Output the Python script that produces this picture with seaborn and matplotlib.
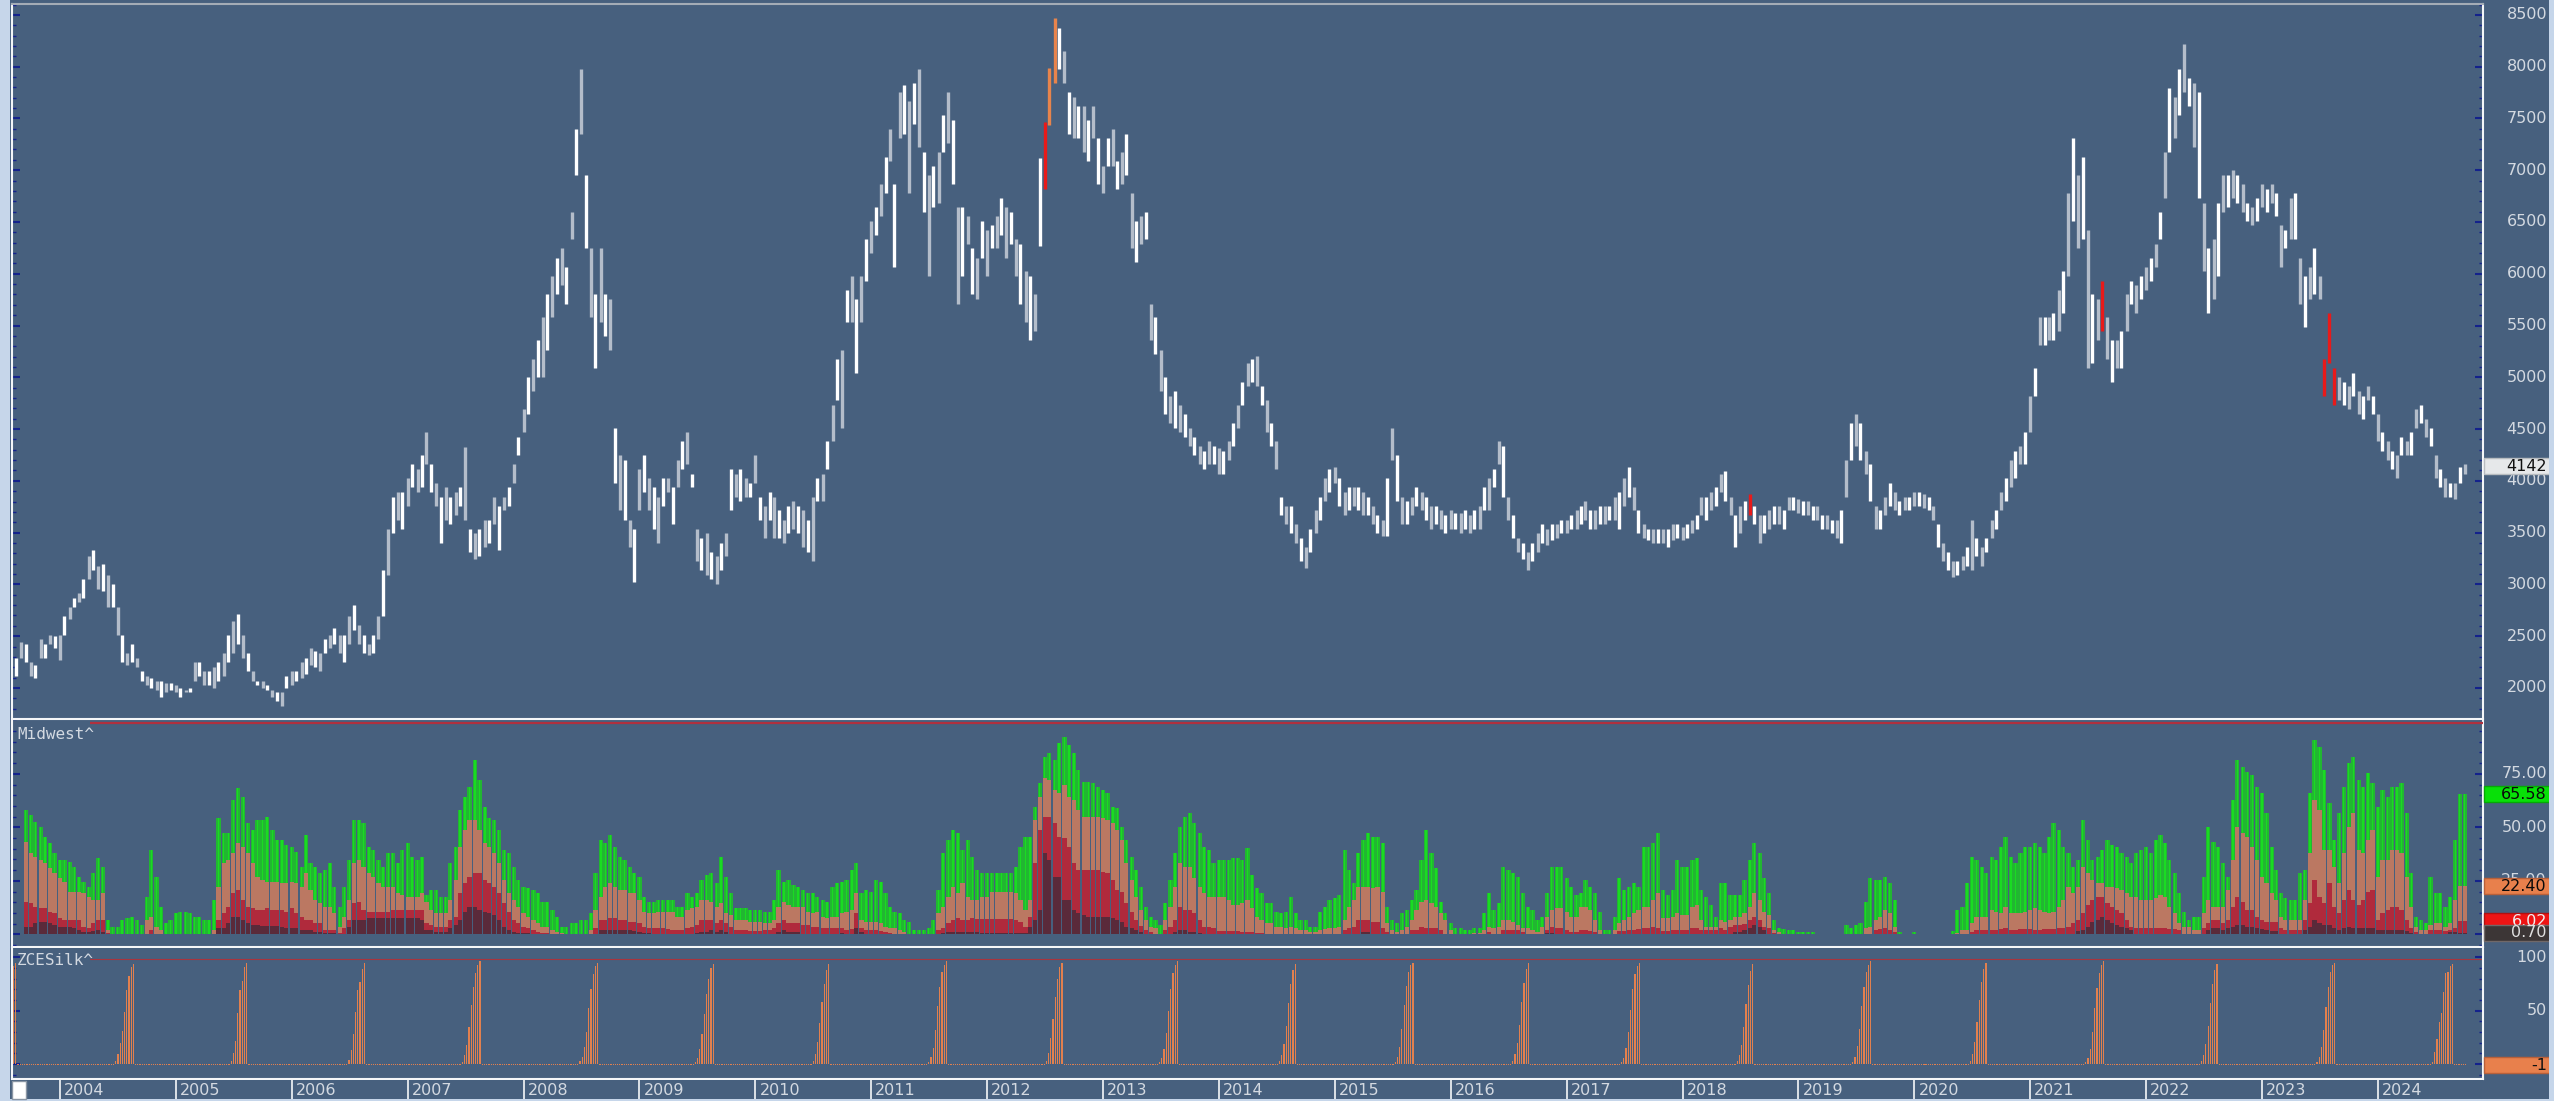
import numpy as np
import pandas as pd
import matplotlib
matplotlib.use("Agg")
import matplotlib.pyplot as plt
from matplotlib.patches import Rectangle
from matplotlib.ticker import MultipleLocator
from matplotlib.transforms import blended_transform_factory as btf
import seaborn as sns

# ---------------------------------------------------------------- data
# semi-monthly bars (1st / 15th), first bar 2003-08-15, last bar 2024-10-01
price_low = [
    2115, 2293, 2248, 2115, 2093, 2293, 2293, 2426, 2382, 2271,
    2515, 2670, 2781, 2826, 2870, 3048, 3136, 2959, 2937, 2781,
    2781, 2515, 2248, 2226, 2248, 2204, 2071, 2026, 2004, 1982,
    1915, 1960, 1982, 1960, 1915, 1960, 1960, 2071, 2115, 2026,
    2026, 2004, 2071, 2115, 2248, 2337, 2426, 2293, 2160, 2071,
    2026, 2004, 1982, 1915, 1871, 1827, 2004, 2026, 2071, 2093,
    2138, 2226, 2204, 2160, 2337, 2382, 2426, 2337, 2248, 2426,
    2560, 2426, 2337, 2315, 2337, 2470, 2692, 3092, 3492, 3625,
    3536, 3758, 3936, 3891, 3936, 4158, 3891, 3758, 3403, 3625,
    3580, 3669, 3758, 3625, 3314, 3250, 3270, 3358, 3403, 3580,
    3336, 3714, 3758, 3980, 4246, 4468, 4646, 4868, 5001, 5001,
    5268, 5578, 5800, 5889, 5712, 6333, 6955, 7354, 6244, 5578,
    5090, 5534, 5401, 5268, 3980, 3714, 3625, 3358, 3025, 3714,
    3891, 3714, 3536, 3403, 3758, 3891, 3580, 3936, 4113, 4158,
    3936, 3225, 3136, 3092, 3048, 3003, 3136, 3270, 3714, 3847,
    3802, 3847, 3847, 3980, 3625, 3447, 3625, 3447, 3447, 3403,
    3492, 3536, 3492, 3358, 3314, 3225, 3802, 3802, 4113, 4380,
    4779,
    4513, 5534, 5534, 5046, 5534, 5934, 6200, 6378, 6555,
    6777, 7088, 6067, 7310, 7354, 6777, 7443, 7221, 6600, 5978,
    6644, 6688, 7177, 7266, 6866, 5712, 5978, 6289, 5800, 5756,
    6156, 5978, 6244, 6244, 6378, 6156, 6289, 5978, 5712, 5534,
    5356, 5445, 6270, 6822, 7433, 7843, 7976, 7843, 7354, 7310,
    7310, 7177, 7088, 7310, 6866, 6777, 7044, 7044, 6822, 6866,
    6955, 6244, 6111, 6289, 6333, 5356, 5223, 4868, 4646, 4557,
    4513, 4468, 4424, 4335, 4246, 4158, 4113, 4158, 4158, 4069,
    4069, 4202, 4335, 4513, 4735, 4912, 4957, 4912, 4735, 4468,
    4335, 4113, 3669, 3580, 3492, 3403, 3225, 3159, 3314, 3492,
    3625, 3802, 3891, 3980, 3758, 3669, 3714, 3758, 3714, 3669,
    3669, 3580, 3492, 3469, 3469, 4202, 3802, 3580, 3580, 3669,
    3758, 3714, 3625, 3536, 3580, 3536, 3492, 3536, 3536, 3492,
    3536, 3492, 3536, 3536, 3714, 3714, 3936, 4158, 3847, 3625,
    3447, 3314, 3248, 3136, 3225, 3314, 3403, 3381, 3425, 3447,
    3492, 3492, 3536, 3536, 3580, 3625, 3536, 3536, 3580, 3580,
    3625, 3625, 3536, 3758, 3847, 3714, 3492, 3447, 3425, 3403,
    3403,
    3403, 3358, 3425, 3447, 3425, 3447, 3492, 3536, 3669,
    3625, 3714, 3758, 3891, 3802, 3669, 3358, 3492, 3625, 3669,
    3580, 3403, 3492, 3536, 3580, 3580, 3536, 3714, 3714, 3692,
    3669, 3669, 3625, 3625, 3536, 3536, 3492, 3447, 3403, 3847,
    4202, 4335, 4202, 4069, 3802, 3536, 3536, 3669, 3758, 3714,
    3669, 3714, 3714, 3758, 3758, 3736, 3714, 3625, 3358, 3225,
    3136, 3070, 3092, 3136, 3181, 3136, 3270, 3181, 3314, 3447,
    3536, 3714, 3802, 3936, 4024, 4158, 4158, 4468, 4823, 5312,
    5312, 5356, 5356, 5445, 5623, 5978, 6511, 6244, 6333, 5090,
    5134, 5356, 5445, 5179, 4957, 5090, 5090, 5445, 5712, 5623,
    5756, 5845, 5934, 6067, 6333, 6733, 7177, 7310, 7532, 7754,
    7621, 7221, 6733, 6022, 5623, 5756, 5978, 6600, 6644, 6733,
    6688, 6600, 6511, 6466, 6511, 6644, 6600, 6688, 6555, 6067,
    6244, 6333, 6333, 5712, 5490, 5756, 5800, 5756, 4823, 5134,
    4735, 4779, 4735, 4690, 4823, 4646, 4602, 4779, 4646, 4380,
    4291, 4202, 4113, 4024, 4246, 4246, 4246, 4513, 4557, 4424,
    4335, 4024, 3936, 3847, 3847, 3825, 3980, 4069,
]
price_high = [
    2293, 2440, 2426, 2248, 2226, 2470, 2426, 2515, 2500, 2515,
    2692, 2781, 2870, 2914, 3048, 3270, 3336, 3180, 3200, 3092,
    3003, 2781, 2515, 2337, 2426, 2293, 2160, 2115, 2093, 2071,
    2071, 2050, 2050, 2026, 2004, 1982, 2004, 2248, 2248, 2160,
    2160, 2204, 2248, 2337, 2515, 2648, 2715, 2515, 2337, 2160,
    2071, 2071, 2026, 1982, 1960, 1960, 2115, 2160, 2160, 2248,
    2293, 2382, 2360, 2337, 2470, 2515, 2581, 2515, 2515, 2692,
    2800, 2604, 2515, 2426, 2515, 2692, 3136, 3536, 3847, 3891,
    3891, 4024, 4158, 4113, 4246, 4468, 4158, 3980, 3847, 3936,
    3847, 3891, 3936, 4330, 3536, 3492, 3536, 3625, 3625, 3847,
    3758, 3847, 3936, 4158, 4424, 4690, 5001, 5179, 5356, 5578,
    5800, 5978, 6156, 6244, 6067, 6600, 7399, 7976, 6955, 6244,
    5800, 6244, 5800, 5756, 4513, 4246, 4202, 3625, 3536, 4113,
    4246, 4024, 3936, 3847, 4024, 4024, 3936, 4202, 4380, 4468,
    4069, 3536, 3447, 3492, 3314, 3270, 3403, 3492, 4113, 4069,
    4113, 4024, 3980, 4246, 3847, 3758, 3891, 3847, 3714, 3625,
    3758, 3802, 3758, 3714, 3625, 3847, 4024, 4069, 4380, 4735,
    5179,
    5268, 5845, 5978, 5756, 5978, 6333, 6511, 6644, 6866,
    7130, 7399, 6866, 7754, 7821, 7665, 7843, 7976, 7177, 6955,
    7044, 7177, 7532, 7754, 7488, 6644, 6644, 6555, 6244, 6156,
    6511, 6422, 6466, 6555, 6733, 6644, 6600, 6333, 6289, 6022,
    5978, 5800, 7113, 7465, 7985, 8466, 8376, 8154, 7754, 7710,
    7621, 7621, 7488, 7621, 7310, 7044, 7310, 7399, 7088, 7177,
    7354, 6777, 6511, 6555, 6600, 5712, 5578, 5268, 5001, 4823,
    4868, 4735, 4646, 4513, 4424, 4335, 4291, 4380, 4335, 4313,
    4291, 4380, 4557, 4735, 4957, 5134, 5179, 5201, 4912, 4779,
    4557, 4380, 3847, 3758, 3758, 3580, 3447, 3358, 3536, 3714,
    3847, 4024, 4113, 4135, 4024, 3891, 3936, 3936, 3936, 3891,
    3847, 3758, 3669, 3625, 4024, 4513, 4246, 3847, 3802, 3847,
    3936, 3891, 3847, 3758, 3758, 3714, 3669, 3714, 3692, 3692,
    3714, 3669, 3714, 3758, 3936, 4024, 4113, 4380, 4335, 3847,
    3669, 3447, 3403, 3314, 3403, 3492, 3580, 3536, 3580, 3580,
    3625, 3625, 3669, 3714, 3758, 3802, 3714, 3714, 3758, 3758,
    3758, 3847, 3891, 4024, 4135, 3936, 3714, 3580, 3536, 3536,
    3536,
    3536, 3536, 3580, 3580, 3558, 3580, 3625, 3669, 3847,
    3847, 3891, 3936, 4069, 4091, 3847, 3669, 3758, 3802, 3869,
    3758, 3669, 3669, 3714, 3758, 3758, 3714, 3847, 3847, 3825,
    3802, 3802, 3758, 3758, 3669, 3669, 3625, 3625, 3714, 4202,
    4557, 4646, 4557, 4291, 4158, 3758, 3714, 3847, 3980, 3891,
    3802, 3847, 3847, 3891, 3891, 3869, 3847, 3758, 3580, 3403,
    3314, 3225, 3225, 3270, 3358, 3625, 3447, 3358, 3447, 3625,
    3714, 3891, 4024, 4202, 4291, 4335, 4468, 4823, 5090, 5578,
    5578, 5578, 5623, 5845, 6022, 6777, 7310, 6955, 7130, 6422,
    5800, 5756, 5934, 5578, 5356, 5356, 5445, 5800, 5934, 5889,
    5978, 6067, 6156, 6289, 6600, 7177, 7798, 7710, 7976, 8220,
    7887, 7843, 7754, 6688, 6244, 6333, 6688, 6955, 6955, 7000,
    6955, 6866, 6688, 6644, 6733, 6866, 6822, 6866, 6777, 6466,
    6422, 6733, 6777, 6156, 5978, 6067, 6244, 5978, 5179, 5623,
    5090, 5001, 4957, 4912, 5046, 4868, 4823, 4912, 4823, 4646,
    4468, 4380, 4291, 4246, 4424, 4380, 4468, 4690, 4735, 4602,
    4513, 4246, 4113, 4024, 3980, 3980, 4135, 4160,
]
last_close = 4142
red_signal_dates = ["2012-07-01", "2018-08-01", "2021-08-15",
                    "2023-07-15", "2023-08-01", "2023-08-15"]
orange_signal_dates = ["2012-07-15", "2012-08-01"]

# Midwest^ : cumulative layer tops on the same semi-monthly grid
mw_d0 = [
    0, 0, 58.1, 55.8, 52.7, 50.3, 45.6, 42.5, 37.9, 34.7,
    34.7, 34.0, 31.6, 27.0, 24.6, 22.3, 28.5, 35.5, 31.6, 6.7,
    3.6, 3.6, 6.7, 7.5, 8.3, 6.7, 4.4, 17.6, 39.4, 27.0,
    12.9, 5.1, 6.7, 9.8, 10.6, 10.6, 9.8, 8.3, 8.3, 6.7,
    6.7, 16.0, 54.2, 47.2, 47.2, 62.8, 68.2, 64.3, 51.9, 48.8,
    53.4, 53.4, 55.0, 48.8, 44.1, 44.1, 41.8, 41.0, 38.6, 31.6,
    46.4, 33.2, 31.6, 28.5, 30.1, 33.2, 22.3, 12.9, 22.3, 34.7,
    53.4, 53.4, 51.9, 41.0, 39.4, 34.7, 31.6, 37.9, 37.9, 33.2,
    39.4, 42.5, 36.3, 34.7, 36.3, 18.4, 20.7, 20.7, 17.6, 17.6,
    33.2, 41.0, 58.1, 64.3, 69.0, 81.5, 72.1, 59.7, 54.2, 53.4,
    48.8, 39.4, 37.9, 31.6, 25.4, 22.3, 21.5, 20.7, 19.2, 15.3,
    15.3, 11.4, 8.3, 3.6, 3.6, 5.1, 5.1, 6.7, 6.7, 9.8,
    28.5, 44.1, 42.5, 46.4, 41.0, 36.3, 34.7, 31.6, 28.5, 27.0,
    17.6, 15.3, 15.3, 16.0, 16.0, 16.0, 16.0, 12.9, 12.9, 19.2,
    17.6, 19.2, 25.4, 27.7, 28.5, 23.8, 36.3, 27.0, 19.2, 12.2,
    12.2, 12.2, 11.4, 11.4, 11.4, 10.6, 10.6, 16.0, 30.1, 24.6,
    25.4, 23.0, 22.3, 20.7, 19.2, 19.2, 17.6, 16.0, 15.3, 22.3,
    23.8,
    24.6, 25.4, 30.1, 33.2, 19.2, 20.7, 19.9, 25.4, 24.6,
    19.2, 12.9, 10.6, 9.8, 6.7, 5.9, 2.0, 2.0, 2.0, 2.8,
    6.7, 20.7, 37.9, 44.1, 48.8, 47.2, 39.4, 44.1, 36.3, 30.1,
    28.5, 28.5, 28.5, 28.5, 28.5, 28.5, 28.5, 31.6, 41.0, 45.6,
    45.6, 59.7, 70.6, 83.0, 84.6, 81.5, 89.3, 92.4, 88.5, 84.6,
    76.8, 71.4, 71.4, 70.6, 69.0, 67.5, 65.9, 59.7, 58.9, 50.3,
    44.1, 36.3, 30.1, 22.3, 12.9, 8.3, 6.7, 4.4, 14.5, 25.4,
    37.9, 50.3, 55.0, 56.6, 51.9, 47.2, 41.0, 39.4, 33.2, 34.7,
    34.7, 34.7, 35.5, 35.5, 34.7, 40.2, 27.7, 21.5, 19.2, 14.5,
    14.5, 10.6, 9.8, 10.6, 17.6, 9.8, 6.7, 6.7, 3.6, 3.6,
    10.6, 12.9, 16.0, 16.8, 18.4, 39.4, 30.1, 23.8, 37.9, 44.1,
    47.2, 45.6, 45.6, 42.5, 12.9, 6.7, 5.1, 9.8, 11.4, 16.0,
    20.7, 34.7, 48.8, 37.9, 30.8, 15.3, 9.8, 5.1, 2.8, 2.8,
    2.0, 2.0, 2.8, 2.8, 9.8, 19.2, 11.4, 14.5, 31.6, 30.1,
    28.5, 27.0, 19.2, 12.9, 11.4, 6.7, 8.3, 19.2, 31.6, 31.6,
    31.6, 26.2, 22.3, 18.4, 19.2, 25.4, 22.3, 19.2, 10.6, 2.0,
    2.0, 8.3, 26.2, 20.7, 22.3, 23.8, 22.3, 41.0, 41.0, 42.5,
    47.2,
    20.7, 18.4, 20.7, 34.7, 31.6, 31.6, 34.7, 35.5, 20.7,
    17.6, 13.7, 8.3, 23.8, 23.8, 18.4, 18.4, 18.4, 25.4, 34.7,
    42.5, 37.9, 26.2, 19.2, 6.7, 2.8, 2.3, 2.0, 2.0, 1.2,
    1.2, 1.2, 1.2, 0, 0, 0, 0, 0, 0, 4.4,
    2.8, 4.4, 5.1, 15.3, 26.2, 25.4, 25.4, 27.0, 23.8, 16.0,
    1.2, 0, 0, 1.2, 0, 0, 0, 0, 0, 0,
    0, 1.7, 11.4, 12.9, 23.8, 36.3, 34.7, 31.6, 28.5, 36.3,
    34.7, 41.0, 45.6, 36.3, 33.2, 37.9, 41.0, 41.0, 42.5, 41.0,
    37.9, 45.6, 51.9, 48.8, 41.0, 37.9, 31.6, 34.7, 53.4, 44.1,
    34.7, 36.3, 39.4, 44.1, 41.8, 41.0, 37.9, 36.3, 33.2, 37.9,
    39.4, 41.0, 37.9, 44.1, 46.4, 42.5, 34.7, 28.5, 19.2, 10.6,
    6.7, 8.3, 8.3, 27.0, 50.3, 43.3, 41.0, 33.2, 27.0, 62.8,
    81.5, 78.4, 76.0, 74.5, 69.0, 65.9, 56.6, 41.0, 30.1, 19.2,
    16.8, 16.0, 16.0, 28.5, 30.1, 65.9, 90.8, 87.7, 76.8, 61.2,
    44.1, 56.6, 69.0, 79.9, 83.0, 72.1, 69.0, 75.3, 70.6, 59.7,
    67.5, 64.3, 69.0, 69.0, 70.6, 56.6, 28.5, 8.3, 6.7, 5.1,
    27.0, 19.2, 19.2, 12.9, 17.6, 44.1, 65.58, 65.58,
]
mw_d1 = [
    0, 0, 43.3, 37.9, 36.3, 34.7, 33.2, 30.8, 28.5, 26.2,
    24.6, 19.9, 19.9, 19.9, 19.2, 17.6, 16.0, 16.0, 19.2, 2.0,
    0, 0, 0, 0, 0, 0, 0, 6.7, 8.3, 3.6,
    2.0, 0, 0, 0, 0, 0, 0, 0, 0, 0,
    0, 2.0, 22.3, 33.2, 34.7, 37.9, 42.5, 41.0, 37.9, 33.2,
    27.0, 25.4, 24.6, 24.6, 24.6, 23.8, 23.8, 24.6, 23.8, 22.3,
    28.5, 20.7, 16.0, 14.5, 12.9, 12.9, 9.8, 3.6, 8.3, 16.0,
    33.2, 34.7, 31.6, 28.5, 27.0, 23.8, 22.3, 22.3, 22.3, 19.2,
    18.4, 17.6, 17.6, 17.6, 19.2, 15.3, 11.4, 9.8, 9.8, 9.8,
    16.0, 25.4, 41.0, 48.8, 53.4, 53.4, 48.8, 42.5, 41.0, 37.9,
    33.2, 25.4, 19.2, 16.0, 12.9, 9.8, 8.3, 6.7, 5.1, 3.6,
    3.6, 2.0, 1.2, 0.8, 0, 0, 0, 0, 0, 2.0,
    11.4, 17.6, 22.3, 23.8, 22.3, 20.7, 20.7, 19.2, 19.2, 16.0,
    10.6, 9.8, 9.8, 10.6, 10.6, 10.6, 10.6, 8.3, 8.3, 11.4,
    12.2, 12.9, 16.0, 16.0, 15.3, 12.9, 14.5, 9.8, 9.0, 6.7,
    6.7, 6.7, 5.9, 5.9, 5.9, 5.1, 5.1, 6.7, 12.9, 15.3,
    13.7, 12.9, 12.9, 12.9, 10.6, 9.8, 10.6, 8.3, 7.5, 8.3,
    8.3,
    9.8, 10.6, 11.4, 19.2, 6.7, 5.9, 5.9, 5.9, 5.1,
    3.6, 2.8, 2.8, 2.0, 1.2, 0, 0, 0, 0, 0,
    0, 9.8, 12.9, 17.6, 22.3, 19.2, 23.8, 17.6, 16.0, 16.0,
    17.6, 17.6, 19.9, 19.9, 19.9, 19.9, 19.9, 19.2, 16.0, 11.4,
    16.0, 53.4, 64.3, 72.9, 72.1, 67.5, 65.9, 69.8, 64.3, 62.8,
    58.1, 55.0, 55.0, 55.0, 55.0, 54.2, 53.4, 51.9, 48.8, 44.1,
    33.2, 25.4, 17.6, 11.4, 6.7, 3.6, 2.8, 0, 6.7, 12.9,
    22.3, 33.2, 31.6, 31.6, 26.2, 22.3, 19.2, 17.6, 17.6, 17.6,
    17.6, 16.0, 13.7, 13.7, 14.5, 16.0, 12.2, 8.3, 6.7, 5.1,
    5.1, 3.6, 3.6, 2.8, 3.6, 2.8, 2.0, 2.0, 1.2, 1.2,
    2.0, 2.3, 2.8, 2.8, 3.6, 6.7, 12.9, 16.0, 22.3, 22.3,
    22.3, 21.5, 22.3, 19.9, 5.1, 2.0, 1.2, 2.0, 3.6, 6.7,
    11.4, 15.3, 16.0, 14.5, 12.9, 9.8, 6.7, 2.0, 0, 0,
    0, 0, 0.8, 0.8, 2.0, 3.6, 2.8, 3.6, 6.7, 6.7,
    5.9, 4.4, 2.8, 2.8, 2.0, 1.2, 3.6, 8.3, 11.4, 12.2,
    12.2, 10.6, 8.3, 8.3, 12.9, 12.9, 11.4, 6.7, 2.0, 0,
    0, 2.0, 5.1, 6.7, 8.3, 9.8, 11.4, 12.9, 12.9, 16.0,
    19.2,
    7.5, 7.5, 8.3, 9.8, 9.0, 9.0, 12.9, 13.7, 6.7,
    3.6, 3.6, 3.6, 6.7, 5.9, 6.7, 8.3, 8.3, 9.8, 12.9,
    19.2, 16.0, 10.6, 9.0, 2.0, 1.2, 0, 0, 0, 0,
    0, 0, 0, 0, 0, 0, 0, 0, 0, 0,
    0, 0, 0, 2.8, 3.6, 6.7, 8.3, 11.4, 9.8, 3.6,
    0, 0, 0, 0, 0, 0, 0, 0, 0, 0,
    0, 0, 0.5, 2.0, 2.0, 5.1, 8.3, 8.3, 8.3, 11.4,
    10.6, 9.8, 12.9, 9.8, 9.8, 9.8, 10.6, 11.4, 12.2, 11.4,
    10.6, 9.8, 10.6, 12.9, 16.0, 22.3, 19.2, 22.3, 31.6, 28.5,
    25.4, 23.8, 23.8, 22.3, 22.3, 21.5, 20.7, 19.2, 17.6, 17.6,
    16.0, 16.0, 16.0, 16.8, 18.4, 17.6, 12.9, 9.8, 5.1, 3.6,
    3.6, 2.0, 2.0, 9.8, 16.0, 12.9, 12.9, 12.9, 20.7, 34.7,
    50.3, 47.2, 45.6, 41.0, 34.7, 27.0, 23.8, 19.2, 16.0, 8.3,
    6.7, 6.7, 6.7, 6.7, 16.0, 37.9, 62.8, 58.1, 39.4, 39.4,
    31.6, 23.8, 37.9, 50.3, 56.6, 39.4, 37.9, 44.1, 48.8, 27.0,
    34.7, 34.7, 39.4, 39.4, 37.9, 27.0, 12.9, 3.6, 2.0, 2.0,
    4.4, 5.1, 5.1, 3.6, 5.1, 16.0, 22.40, 22.40,
]
mw_d2 = [
    0, 0, 15.3, 14.5, 12.9, 12.2, 12.2, 10.6, 9.8, 7.5,
    6.7, 6.7, 6.7, 6.7, 3.6, 2.8, 5.1, 6.7, 6.7, 0.5,
    0, 0, 0, 0, 0, 0, 0, 0, 2.0, 0,
    0, 0, 0, 0, 0, 0, 0, 0, 0, 0,
    0, 0, 6.7, 9.8, 12.9, 19.2, 20.7, 16.0, 12.9, 12.2,
    11.4, 11.4, 12.2, 11.4, 11.4, 11.4, 10.6, 12.2, 9.8, 8.3,
    6.7, 6.7, 5.1, 5.1, 2.0, 2.0, 2.0, 0.5, 2.8, 6.7,
    14.5, 15.3, 11.4, 10.6, 10.6, 10.6, 10.6, 10.6, 11.4, 11.4,
    11.4, 11.4, 11.4, 11.4, 11.4, 5.1, 4.4, 3.6, 3.6, 3.6,
    6.7, 8.3, 19.2, 23.8, 27.0, 28.5, 28.5, 25.4, 23.8, 22.3,
    19.2, 14.5, 10.6, 6.7, 5.1, 3.6, 2.8, 2.0, 1.2, 0.8,
    0.8, 0, 0, 0, 0, 0, 0, 0, 0, 0,
    2.8, 6.7, 6.7, 7.5, 7.5, 6.7, 6.7, 5.9, 5.9, 5.1,
    3.6, 2.8, 2.8, 2.8, 2.8, 2.3, 2.0, 2.0, 2.0, 2.8,
    3.6, 4.4, 6.7, 6.7, 6.7, 5.1, 6.7, 5.1, 3.6, 2.0,
    2.0, 2.0, 1.7, 1.7, 1.7, 2.0, 2.0, 2.8, 5.1, 6.7,
    5.1, 5.1, 5.1, 4.4, 4.4, 3.6, 3.6, 2.8, 2.8, 2.8,
    2.8,
    2.8, 2.0, 2.3, 9.8, 2.8, 2.0, 2.0, 2.0, 1.7,
    1.2, 0.8, 0, 0, 0, 0, 0, 0, 0, 0,
    0, 2.0, 2.8, 5.1, 6.7, 7.5, 6.7, 6.7, 7.5, 7.0,
    7.0, 7.0, 7.0, 7.0, 7.0, 7.0, 7.0, 6.7, 5.9, 3.6,
    8.3, 33.2, 48.8, 55.0, 55.0, 51.9, 45.6, 44.9, 41.0, 33.2,
    30.1, 30.1, 30.1, 30.1, 30.1, 29.3, 28.5, 25.4, 20.7, 19.9,
    14.5, 10.6, 6.7, 3.9, 2.0, 1.2, 0, 0, 2.0, 3.6,
    6.7, 12.9, 11.4, 11.4, 9.8, 6.7, 3.6, 3.6, 2.8, 1.7,
    1.7, 1.7, 1.7, 1.7, 1.2, 1.2, 1.2, 0.8, 0.5, 0,
    0, 0, 0, 0, 0, 0, 0, 0, 0, 0,
    0, 0, 0, 0, 0, 2.0, 2.8, 3.6, 6.7, 6.7,
    6.7, 5.9, 5.9, 2.8, 1.2, 0, 0, 0, 0, 2.0,
    2.0, 3.6, 2.8, 2.8, 2.8, 2.0, 0, 0, 0, 0,
    0, 0, 0, 0, 0, 1.2, 0, 0, 2.0, 2.0,
    2.0, 2.0, 1.2, 0, 0, 0, 0, 2.0, 3.6, 2.8,
    2.8, 2.0, 1.2, 1.2, 2.0, 2.0, 1.7, 1.2, 0, 0,
    0, 0, 1.7, 1.7, 2.0, 2.0, 2.3, 2.8, 2.8, 3.6,
    2.8,
    1.7, 1.7, 2.0, 2.0, 2.0, 2.0, 2.8, 2.8, 2.0,
    2.0, 2.0, 2.0, 2.8, 2.0, 3.6, 4.4, 4.4, 4.8, 6.7,
    8.3, 6.7, 3.6, 2.8, 0.8, 0, 0, 0, 0, 0,
    0, 0, 0, 0, 0, 0, 0, 0, 0, 0,
    0, 0, 0, 0, 0, 2.0, 2.3, 2.8, 2.0, 1.2,
    0, 0, 0, 0, 0, 0, 0, 0, 0, 0,
    0, 0, 0, 0, 0, 1.2, 2.0, 2.0, 2.0, 2.0,
    2.0, 2.3, 2.8, 2.0, 2.0, 2.3, 2.3, 2.3, 2.0, 2.0,
    2.3, 2.3, 2.3, 2.8, 2.8, 3.6, 5.1, 6.7, 9.8, 13.7,
    16.0, 17.6, 17.6, 14.5, 12.9, 11.4, 9.8, 6.7, 3.6, 2.8,
    2.8, 2.8, 2.8, 2.8, 2.8, 2.8, 2.3, 2.3, 2.0, 0,
    0, 0, 0, 2.8, 5.1, 6.7, 6.7, 5.1, 6.7, 12.9,
    17.6, 15.3, 11.4, 11.4, 8.3, 6.7, 5.9, 5.9, 5.9, 2.8,
    2.0, 2.0, 2.0, 2.0, 6.7, 14.5, 25.4, 17.6, 14.5, 23.8,
    12.9, 9.8, 16.0, 20.7, 16.0, 13.7, 16.0, 19.9, 20.7, 6.7,
    9.8, 11.4, 12.9, 12.9, 11.4, 6.7, 2.8, 1.2, 0, 0,
    2.0, 2.0, 2.0, 1.7, 2.0, 2.8, 6.02, 6.02,
]
mw_d3 = [
    0, 0, 3.6, 3.6, 5.1, 5.9, 5.9, 5.1, 4.4, 3.6,
    3.6, 3.3, 2.8, 2.0, 1.2, 1.2, 1.7, 2.0, 1.2, 0,
    0, 0, 0, 0, 0, 0, 0, 0, 0, 0,
    0, 0, 0, 0, 0, 0, 0, 0, 0, 0,
    0, 0, 2.8, 2.8, 5.1, 8.3, 8.3, 6.7, 5.1, 4.4,
    4.4, 3.9, 3.9, 3.9, 3.9, 3.6, 2.8, 2.8, 2.8, 2.0,
    2.0, 2.0, 1.2, 1.2, 0.5, 0.5, 0.5, 0, 0, 3.6,
    6.7, 6.7, 6.7, 7.5, 7.5, 7.5, 7.5, 7.5, 7.5, 7.5,
    7.5, 7.5, 7.5, 7.5, 6.7, 2.0, 2.0, 1.2, 1.2, 1.2,
    2.8, 4.4, 6.7, 10.6, 12.9, 12.9, 11.4, 10.6, 9.8, 9.0,
    6.7, 3.6, 2.0, 1.2, 0.8, 0.5, 0.5, 0, 0, 0,
    0, 0, 0, 0, 0, 0, 0, 0, 0, 0,
    0, 2.0, 2.0, 2.0, 2.0, 2.0, 2.0, 2.0, 1.7, 1.2,
    0.5, 0.5, 0, 0, 0, 0, 0, 0, 0, 0,
    0, 0.5, 1.2, 1.2, 2.0, 1.2, 2.0, 1.2, 0, 0,
    0, 0, 0, 0, 0, 0, 0, 0, 1.2, 2.0,
    1.2, 1.2, 1.2, 0, 0, 0, 0, 0, 0, 0,
    0,
    0.8, 0, 0, 2.8, 1.2, 0, 0, 0, 0,
    0, 0, 0, 0, 0, 0, 0, 0, 0, 0,
    0, 0, 0.8, 1.2, 1.2, 1.2, 1.2, 1.2, 1.2, 1.2,
    0.8, 0.8, 0.8, 0.8, 0.8, 0.8, 0.8, 0.5, 0.5, 0.8,
    3.6, 6.7, 11.4, 37.9, 34.7, 27.0, 27.0, 16.0, 16.0, 11.4,
    9.8, 9.0, 8.3, 8.3, 8.3, 8.3, 8.3, 7.5, 6.7, 5.9,
    3.6, 2.8, 2.0, 1.2, 0, 0, 0, 0, 0, 0,
    1.2, 2.0, 2.0, 1.2, 1.2, 0.8, 0, 0, 0, 0,
    0, 0, 0, 0, 0, 0, 0, 0, 0, 0,
    0, 0, 0, 0, 0, 0, 0, 0, 0, 0,
    0, 0, 0, 0, 0, 0, 0, 0, 0, 1.2,
    1.2, 0, 0, 0, 0, 0, 0, 0, 0, 0,
    0, 0, 0, 0, 0, 0, 0, 0, 0, 0,
    0, 0, 0, 0, 0, 0, 0, 0, 0, 0,
    0, 0, 0, 0, 0, 0, 0, 0.8, 0.8, 0,
    0, 0, 0, 0, 0, 0, 0, 0, 0, 0,
    0, 0, 0, 0, 0, 0, 0, 0, 0, 0,
    0,
    0, 0, 0, 0, 0, 0, 0, 0, 0,
    0, 0, 0, 0, 0, 0, 1.2, 1.2, 2.0, 2.8,
    4.4, 3.6, 2.0, 0, 0, 0, 0, 0, 0, 0,
    0, 0, 0, 0, 0, 0, 0, 0, 0, 0,
    0, 0, 0, 0, 0, 0, 0, 0, 0, 0,
    0, 0, 0, 0, 0, 0, 0, 0, 0, 0,
    0, 0, 0, 0, 0, 0, 0, 0, 0, 0,
    0, 0, 0, 0, 0, 0, 0, 0, 0, 0,
    0, 0, 0, 0, 0, 0, 0, 1.7, 2.0, 3.6,
    5.9, 6.7, 8.3, 6.7, 5.1, 4.4, 3.6, 2.8, 2.0, 0,
    0, 0, 0, 0, 0, 0, 0, 0, 0, 0,
    0, 0, 0, 0, 2.0, 2.8, 2.8, 2.0, 2.8, 3.6,
    4.4, 4.4, 3.6, 3.6, 2.8, 2.3, 2.0, 1.7, 1.7, 0,
    0, 0, 0, 0, 2.0, 3.6, 6.7, 5.1, 4.4, 4.4,
    2.8, 2.0, 2.8, 3.6, 2.8, 2.8, 2.8, 2.8, 2.8, 2.0,
    2.0, 2.0, 2.0, 2.0, 2.0, 1.7, 0.8, 0, 0, 0,
    0, 0, 0, 0, 0.9, 1.1, 0.70, 0.70,
]

# ZCESilk^ : weekly bars, -1 outside the yearly run-up
silk_baseline = -1
silk_tail_2003 = [92, 95]                  # weeks of 2003-08-08 and 2003-08-15
silk_peak_dates = [
    "2004-08-20", "2005-08-12", "2006-08-18", "2007-08-17", "2008-08-22",
    "2009-08-21", "2010-08-20", "2011-08-26", "2012-08-24", "2013-08-23",
    "2014-08-29", "2015-09-04", "2016-09-02", "2017-08-18", "2018-08-10",
    "2019-08-16", "2020-08-14", "2021-08-20", "2022-08-12", "2023-08-18",
    "2024-08-23",
]
silk_runups = [
    [3, 9, 20, 31, 49, 69, 82, 91, 94],
    [3, 10, 22, 48, 69, 78, 91, 95],
    [4, 13, 28, 49, 69, 77, 89, 95],
    [2, 8, 18, 35, 55, 72, 85, 93, 96],
    [3, 7, 16, 30, 52, 70, 84, 92, 95],
    [2, 6, 14, 28, 47, 66, 80, 90, 94],
    [3, 9, 21, 38, 58, 75, 88, 94],
    [2, 7, 15, 32, 54, 72, 86, 93, 96],
    [3, 10, 24, 42, 63, 80, 91, 95],
    [2, 6, 14, 29, 50, 70, 85, 93, 96],
    [3, 8, 19, 36, 57, 75, 88, 94],
    [2, 7, 16, 33, 55, 73, 86, 93, 95],
    [3, 9, 20, 37, 58, 76, 89, 95],
    [2, 6, 15, 30, 51, 70, 84, 92, 95],
    [3, 8, 18, 35, 56, 74, 87, 94],
    [2, 7, 17, 33, 54, 72, 86, 93, 96],
    [3, 9, 21, 39, 60, 77, 89, 95],
    [2, 6, 14, 30, 52, 71, 85, 93, 96],
    [3, 8, 19, 36, 57, 75, 88, 94],
    [2, 7, 16, 32, 53, 72, 86, 93, 95],
    [2, 11, 23, 39, 48, 67, 85, 86, 92, 94],
]
year_labels = list(range(2004, 2025))
price_axis_ticks = list(range(2000, 8501, 500))
mw_axis_ticks = [25, 50, 75]
silk_axis_ticks = [50, 100]

# ---------------------------------------------------------------- helpers
def dec_year(idx):
    idx = pd.DatetimeIndex(idx)
    days = np.where(idx.is_leap_year, 366.0, 365.0)
    return np.asarray(idx.year + (idx.dayofyear - 1) / days, dtype=float)

n = min(len(price_low), len(price_high), len(mw_d0), len(mw_d1), len(mw_d2), len(mw_d3))
dates_sm = pd.date_range("2003-08-15", periods=n, freq="SMS")
x_sm = dec_year(dates_sm)

weeks = pd.date_range("2003-08-08", "2024-10-04", freq="W-FRI")
silk = pd.Series(float(silk_baseline), index=weeks)
silk.iloc[:len(silk_tail_2003)] = silk_tail_2003
for d, ramp in zip(silk_peak_dates, silk_runups):
    j = weeks.get_indexer([pd.Timestamp(d)], method="nearest")[0]
    silk.iloc[j - len(ramp) + 1:j + 1] = ramp
x_wk = dec_year(weeks)

BG = "#47607e"
NAVY = "#14228c"
TXT = "#d3d9e1"
WHITE = "#f4f6f8"
LABEL_FONT = ["DejaVu Sans"]

sns.set_theme(style="dark", rc={"axes.facecolor": BG, "figure.facecolor": BG,
                                "savefig.facecolor": BG})
plt.rcParams["font.family"] = ["DejaVu Sans"]

W, H = 2554, 1101
fig = plt.figure(figsize=(W / 100, H / 100), dpi=100, facecolor=BG)

def ax_at(x0, y0, x1, y1):
    return fig.add_axes([x0 / W, 1 - y1 / H, (x1 - x0) / W, (y1 - y0) / H])

L, R = 12, 2483
AXW = R - L
ax1 = ax_at(L, 4, R, 719)
ax2 = ax_at(L, 721, R, 947)
ax3 = ax_at(L, 948, R, 1079)
ax4 = ax_at(L, 1080, R, 1099)
XLIM = (2003.586, 2024.906)

def bars(ax, x, y, color, width):
    try:
        sns.barplot(x=x, y=y, native_scale=True, orient="x", color=color,
                    saturation=1, width=width, errorbar=None, linewidth=0, ax=ax)
    except Exception:
        w = width * np.min(np.diff(np.unique(x)))
        ax.bar(x, y, width=w, color=color, linewidth=0)

# ---------------------------------------------------------------- main panel
lows = np.array(price_low[:n], float)
highs = np.array(price_high[:n], float)
cols = ["#ffffff" if i % 2 == 0 else "#b4bdca" for i in range(n)]
red_set = set(pd.to_datetime(red_signal_dates))
org_set = set(pd.to_datetime(orange_signal_dates))
for i, d in enumerate(dates_sm):
    if d in red_set:
        cols[i] = "#e81a1a"
    elif d in org_set:
        cols[i] = "#e8844c"
ax1.vlines(x_sm, lows, highs, colors=cols, linewidth=2.4, zorder=3)
ax1.set_ylim(1700, 8605)

# ---------------------------------------------------------------- Midwest panel
bars(ax2, x_sm, mw_d0[:n], "#22b632", 0.95)
bars(ax2, x_sm, mw_d0[:n], "#19dc22", 0.3)
bars(ax2, x_sm, mw_d1[:n], "#bb7862", 0.95)
bars(ax2, x_sm, mw_d2[:n], "#b02a3c", 0.95)
bars(ax2, x_sm, mw_d3[:n], "#5a2a3a", 0.95)
ax2.set_ylim(-5.9, 99.7)

# ---------------------------------------------------------------- ZCESilk panel
bars(ax3, x_wk, silk.values, "#e2804e", 0.55)
ax3.set_ylim(-14, 108.6)

# ---------------------------------------------------------------- styling
for ax in (ax1, ax2, ax3, ax4):
    ax.set_xlim(*XLIM)
    ax.set_facecolor(BG)
    ax.grid(False)
    ax.set_xlabel("")
    ax.set_ylabel("")
    ax.tick_params(axis="x", which="both", bottom=False, top=False, labelbottom=False)
    for s in ax.spines.values():
        s.set_color(WHITE)
        s.set_linewidth(1.5)

ax1.spines["top"].set_color("#a4acb6")
ax2.spines["top"].set_visible(False)
ax3.spines["top"].set_visible(False)
for sp in ("top", "left", "right", "bottom"):
    ax4.spines[sp].set_visible(False)
ax4.set_yticks([])
ax4.set_ylim(0, 1)

for ax, maj, mnr in ((ax1, 500, 100), (ax2, 25, 5), (ax3, 50, 10)):
    ax.yaxis.set_major_locator(MultipleLocator(maj))
    ax.yaxis.set_minor_locator(MultipleLocator(mnr))
    ax.tick_params(axis="y", which="both", direction="in", left=True, right=True,
                   labelleft=False, labelright=False, color=NAVY)
    ax.tick_params(axis="y", which="major", length=6, width=1.5)
    ax.tick_params(axis="y", which="minor", length=3, width=1.0)

# separator red lines
x_red0 = (90 - L) / AXW
ax2.plot([x_red0, 1], [0.992, 0.992], transform=ax2.transAxes, color="#b0303e",
         lw=1.6, solid_capstyle="butt", clip_on=False, zorder=6)
ax3.plot([x_red0, 1], [98.5, 98.5], transform=btf(ax3.transAxes, ax3.transData),
         color="#a8343e", lw=0.8, zorder=1)

# panel titles
ax2.text(5 / AXW, 0.975, "Midwest^", transform=ax2.transAxes, va="top", ha="left",
         color=TXT, fontsize=11.5, family=["DejaVu Sans Mono"])
ax3.text(5 / AXW, 0.965, "ZCESilk^", transform=ax3.transAxes, va="top", ha="left",
         color=TXT, fontsize=11.5, family=["DejaVu Sans Mono"])

# right-hand scale labels (later labels are drawn over earlier ones)
X_TXT = (2547 - L) / AXW
X_B0, X_B1 = (2484 - L) / AXW, (2551 - L) / AXW
_z = [10]

def scale_label(ax, y, text, tcolor=TXT, box=None, edge=None, hpx=16):
    tr = btf(ax.transAxes, ax.transData)
    _z[0] += 2
    if box is not None:
        y0, y1 = ax.get_ylim()
        hdata = hpx * (y1 - y0) / (ax.get_position().height * H)
        ax.add_patch(Rectangle((X_B0, y - hdata / 2), X_B1 - X_B0, hdata, transform=tr,
                               facecolor=box, edgecolor=edge or box, lw=1,
                               clip_on=False, zorder=_z[0]))
    ax.text(X_TXT, y, text, transform=tr, ha="right", va="center", color=tcolor,
            fontsize=11.5, family=LABEL_FONT, clip_on=False, zorder=_z[0] + 1)

for v in price_axis_ticks:
    scale_label(ax1, v, f"{v}")
scale_label(ax1, last_close, f"{last_close}", tcolor="#111111", box="#e6e8ea", edge="#b8bcc0")

for v in mw_axis_ticks:
    scale_label(ax2, v, f"{v:.2f}")
scale_label(ax2, mw_d0[n - 1], f"{mw_d0[n - 1]:.2f}", tcolor="#0a0a0a", box="#08e008", edge="#06a806")
scale_label(ax2, mw_d1[n - 1], f"{mw_d1[n - 1]:.2f}", tcolor="#0a0a0a", box="#e8804c", edge="#b8603a")
scale_label(ax2, mw_d2[n - 1], f"{mw_d2[n - 1]:.2f}", tcolor="#f0f0f0", box="#ee1414", edge="#b01010")
scale_label(ax2, mw_d3[n - 1], f"{mw_d3[n - 1]:.2f}", tcolor="#e0e0e0", box="#3c3636", edge="#706868")

for v in silk_axis_ticks:
    scale_label(ax3, v, f"{v}")
scale_label(ax3, silk.values[-1], f"{int(silk.values[-1])}", tcolor="#111111", box="#e8804c", edge="#b8603a")

# time axis strip
for yv in year_labels:
    ax4.axvline(yv, color="#e8ecf0", lw=1.3)
    ax4.text(yv + 4 / 115.9, 0.45, str(yv), va="center", ha="left", color=TXT,
             fontsize=11.5, family=LABEL_FONT)

# frame decorations
fig.add_artist(Rectangle((0, 0), 10 / W, 1, transform=fig.transFigure,
                         facecolor="#c6d6ea", edgecolor="none"))
fig.add_artist(Rectangle((2549 / W, 0), 5 / W, 1, transform=fig.transFigure,
                         facecolor="#c6d6ea", edgecolor="none"))
fig.add_artist(Rectangle((0, 0), 1, 2 / H, transform=fig.transFigure,
                         facecolor="#c6d6ea", edgecolor="none"))
fig.add_artist(Rectangle((12 / W, 1 - 1099 / H), 14 / W, 18 / H, transform=fig.transFigure,
                         facecolor="#ffffff", edgecolor="#8a96a4", lw=1))

fig.savefig("out.png", dpi=100, facecolor=BG)
